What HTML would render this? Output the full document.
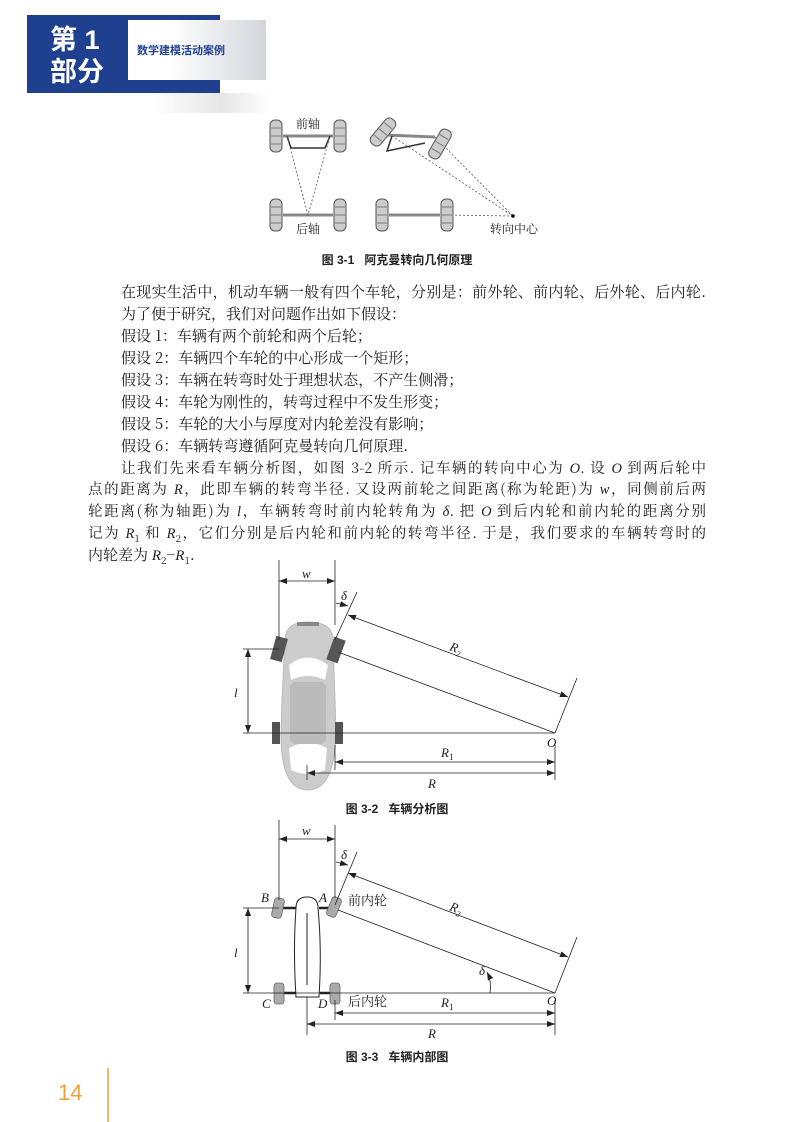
<!DOCTYPE html>
<html><head><meta charset="utf-8"><style>
body{margin:0;background:#fff;}
#p{position:relative;width:794px;height:1122px;overflow:hidden;background:#fff;font-family:"Noto Serif CJK SC","Liberation Serif",serif;color:#222;}
.l{position:absolute;font-size:15px;line-height:22px;white-space:nowrap;}
.j{text-align:justify;text-align-last:justify;white-space:nowrap;}
i{font-style:italic;font-family:"Liberation Serif",serif}
svg text{font-family:"Liberation Serif","Noto Serif CJK SC",serif;fill:#222}
.cap{position:absolute;font-family:"Liberation Sans","Noto Sans CJK SC",sans-serif;font-weight:bold;font-size:12px;width:794px;text-align:center;left:0;color:#222}
</style></head><body><div id="p">
<div style="position:absolute;left:27px;top:15px;width:193px;height:78px;background:#1f3f8f"></div>
<div style="position:absolute;left:128px;top:20px;width:138px;height:60px;background:linear-gradient(90deg,#fff 30%,#d4d6dc)"></div>
<div style="position:absolute;left:150px;top:93px;width:120px;height:20px;background:linear-gradient(90deg,#fff,#e6e6e6 60%,#fff)"></div>
<div style="position:absolute;left:50px;top:24px;color:#fff;font:bold 27px 'Liberation Sans','Noto Sans CJK SC',sans-serif;line-height:32px">第 1<br>部分</div>
<div style="position:absolute;left:137px;top:42px;color:#1f3f8f;font:bold 11px 'Liberation Sans','Noto Sans CJK SC',sans-serif">数学建模活动案例</div>

<svg style="position:absolute;left:0;top:0" width="794" height="1122">
<defs>
<marker id="a" markerWidth="8" markerHeight="6" refX="8" refY="3" orient="auto-start-reverse" markerUnits="userSpaceOnUse"><path d="M0,0L8,3L0,6" fill="#222"/></marker>
<g id="wh"><rect x="-6" y="-16" width="12" height="32" rx="5" fill="#ccc" stroke="#555" stroke-width="1"/><line x1="-5" y1="-8" x2="5" y2="-8" stroke="#777"/><line x1="-5" y1="0" x2="5" y2="0" stroke="#777"/><line x1="-5" y1="8" x2="5" y2="8" stroke="#777"/></g>
</defs>
<g stroke="#888" stroke-width="3"><line x1="283" y1="136" x2="333" y2="136"/><line x1="283" y1="215" x2="333" y2="215"/><line x1="389" y1="215" x2="440" y2="215"/><line x1="386" y1="135" x2="435" y2="137"/></g>
<path d="M287,136 L291,148 L325,148 L330,136" fill="none" stroke="#333" stroke-width="1.5"/>
<path d="M392,136 L387,151 L425,143" fill="none" stroke="#333" stroke-width="1.5"/>
<g stroke="#555" stroke-dasharray="2,2" fill="none" stroke-width="0.8"><path d="M287,136L308,215L330,136"/><path d="M392,136L513,216M435,137L513,216M447,215L513,216"/></g>
<circle cx="513" cy="216" r="1.8" fill="#000"/>
<use href="#wh" x="276" y="136"/><use href="#wh" x="340" y="136"/><use href="#wh" x="276" y="215"/><use href="#wh" x="340" y="215"/>
<use href="#wh" x="382" y="215"/><use href="#wh" x="447" y="215"/>
<use href="#wh" transform="translate(383,132) rotate(40)"/><use href="#wh" transform="translate(440,144) rotate(30)"/>
<text x="296" y="128" font-size="12">前轴</text><text x="296" y="233" font-size="12">后轴</text><text x="490" y="233" font-size="12">转向中心</text>

<path d="M285,640 Q285,622 308,622 Q333,622 333,640 L335,700 L336,735 Q334,790 308,790 Q281,790 281,735 L282,700 Z" fill="#ccc" stroke="#bbb"/>
<path d="M289,665 Q308,650 328,665 L325,680 Q308,672 291,680Z" fill="#fff"/>
<path d="M289,748 Q308,738 327,748 L325,770 Q308,778 291,770Z" fill="#fff"/>
<rect x="290" y="682" width="36" height="62" rx="6" fill="#bbb"/>
<rect x="297" y="622" width="22" height="4" fill="#888"/>
<rect x="-6" y="-12" width="12" height="24" fill="#555" transform="translate(279,649) rotate(15)"/>
<rect x="-6" y="-12" width="12" height="24" fill="#555" transform="translate(336,650) rotate(20)"/>
<rect x="272" y="722" width="8" height="22" fill="#555"/><rect x="335" y="722" width="8" height="22" fill="#555"/>
<g stroke="#222" stroke-width="0.8" fill="none">
<line x1="279" y1="560" x2="279" y2="640"/><line x1="335" y1="560" x2="335" y2="625"/>
<line x1="279" y1="581" x2="335" y2="581" marker-start="url(#a)" marker-end="url(#a)"/>
<line x1="336" y1="603" x2="348" y2="606" marker-end="url(#a)"/>
<line x1="335" y1="640" x2="357" y2="592"/>
<line x1="348" y1="615" x2="568" y2="697" marker-start="url(#a)" marker-end="url(#a)"/>
<line x1="338" y1="652" x2="555" y2="733"/>
<line x1="555" y1="733" x2="577" y2="678"/>
<line x1="243" y1="733" x2="555" y2="733"/><line x1="243" y1="649" x2="279" y2="649"/>
<line x1="248" y1="649" x2="248" y2="733" marker-start="url(#a)" marker-end="url(#a)"/>
<line x1="335" y1="745" x2="335" y2="770"/><line x1="555" y1="745" x2="555" y2="780"/><line x1="307" y1="765" x2="307" y2="780"/>
<line x1="335" y1="762" x2="555" y2="762" marker-start="url(#a)" marker-end="url(#a)"/>
<line x1="307" y1="773" x2="555" y2="773" marker-start="url(#a)" marker-end="url(#a)"/>
</g>
<g font-style="italic" font-size="13">
<text x="302" y="578">w</text><text x="341" y="600">δ</text><text x="450" y="652" transform="rotate(20 455 648)">R<tspan font-size="8" dy="3">2</tspan></text>
<text x="234" y="697">l</text><text x="547" y="747">O</text><text x="441" y="757">R<tspan font-size="9" dy="3" font-style="normal">1</tspan></text><text x="428" y="788">R</text>
</g>

<path d="M296,908 Q296,897 307,897 Q318,897 318,908 Q322,950 319,997 L296,997 Q293,950 296,908 Z" fill="#fff" stroke="#222" stroke-width="1"/>
<line x1="307" y1="913" x2="307" y2="985" stroke="#222"/>
<g stroke="#222" stroke-width="2.5"><line x1="279" y1="908" x2="296" y2="908"/><line x1="319" y1="908" x2="335" y2="908"/><line x1="279" y1="993" x2="296" y2="993"/><line x1="320" y1="993" x2="335" y2="993"/></g>
<g fill="#aaa" stroke="#666" stroke-width="0.8">
<rect x="-5" y="-10" width="10" height="20" rx="3" transform="translate(278,908) rotate(12)"/>
<rect x="-5" y="-10" width="10" height="20" rx="3" transform="translate(334,907) rotate(22)"/>
<rect x="274" y="983" width="10" height="21" rx="3"/><rect x="330" y="983" width="10" height="21" rx="3"/></g>
<g stroke="#222" stroke-width="0.8" fill="none">
<line x1="279" y1="820" x2="279" y2="900"/><line x1="335" y1="825" x2="335" y2="898"/>
<line x1="279" y1="839" x2="335" y2="839" marker-start="url(#a)" marker-end="url(#a)"/>
<line x1="336" y1="862" x2="348" y2="865" marker-end="url(#a)"/>
<line x1="335" y1="905" x2="357" y2="852"/>
<line x1="348" y1="873" x2="568" y2="957" marker-start="url(#a)" marker-end="url(#a)"/>
<line x1="338" y1="910" x2="555" y2="993"/>
<line x1="555" y1="993" x2="577" y2="937"/>
<line x1="243" y1="993" x2="555" y2="993"/><line x1="243" y1="908" x2="279" y2="908"/>
<line x1="248" y1="908" x2="248" y2="993" marker-start="url(#a)" marker-end="url(#a)"/>
<path d="M490,993 Q492,982 487,972" marker-end="url(#a)"/>
<line x1="335" y1="1000" x2="335" y2="1020"/><line x1="555" y1="1000" x2="555" y2="1035"/><line x1="307" y1="997" x2="307" y2="1035"/>
<line x1="335" y1="1013" x2="555" y2="1013" marker-start="url(#a)" marker-end="url(#a)"/>
<line x1="307" y1="1024" x2="555" y2="1024" marker-start="url(#a)" marker-end="url(#a)"/>
</g>
<g font-style="italic" font-size="13">
<text x="302" y="835">w</text><text x="341" y="859">δ</text><text x="450" y="912" transform="rotate(20 455 908)">R<tspan font-size="8" dy="3">2</tspan></text>
<text x="234" y="957">l</text><text x="547" y="1005">O</text><text x="441" y="1007">R<tspan font-size="9" dy="3" font-style="normal">1</tspan></text><text x="428" y="1038">R</text>
<text x="261" y="902">B</text><text x="319" y="902">A</text><text x="262" y="1008">C</text><text x="318" y="1008">D</text>
<text x="479" y="975">δ</text>
</g>
<text x="348" y="905" font-size="13">前内轮</text><text x="348" y="1006" font-size="13">后内轮</text>
<line x1="108" y1="1068" x2="108" y2="1122" stroke="#e8a23a" stroke-width="1.5"/>
<text x="58" y="1100" font-size="22" style="font-family:'Liberation Sans',sans-serif;fill:#e8a23a">14</text>
</svg>

<div class="cap" style="top:251px">图 3-1&nbsp;&nbsp;&nbsp;阿克曼转向几何原理</div>
<div class="cap" style="top:800px">图 3-2&nbsp;&nbsp;&nbsp;车辆分析图</div>
<div class="cap" style="top:1048px">图 3-3&nbsp;&nbsp;&nbsp;车辆内部图</div>

<div class="l j" style="left:121px;top:281px;width:585px">在现实生活中，机动车辆一般有四个车轮，分别是：前外轮、前内轮、后外轮、后内轮.</div>
<div class="l" style="left:121px;top:303px">为了便于研究，我们对问题作出如下假设：</div>
<div class="l" style="left:121px;top:325px">假设 1：车辆有两个前轮和两个后轮；</div>
<div class="l" style="left:121px;top:347px">假设 2：车辆四个车轮的中心形成一个矩形；</div>
<div class="l" style="left:121px;top:369px">假设 3：车辆在转弯时处于理想状态，不产生侧滑；</div>
<div class="l" style="left:121px;top:391px">假设 4：车轮为刚性的，转弯过程中不发生形变；</div>
<div class="l" style="left:121px;top:413px">假设 5：车轮的大小与厚度对内轮差没有影响；</div>
<div class="l" style="left:121px;top:435px">假设 6：车辆转弯遵循阿克曼转向几何原理.</div>
<div class="l j" style="left:121px;top:457px;width:585px;font-size:14.5px">让我们先来看车辆分析图，如图 3-2 所示. 记车辆的转向中心为 <i>O</i>. 设 <i>O</i> 到两后轮中</div>
<div class="l j" style="left:88px;top:478px;width:618px;font-size:14.5px">点的距离为 <i>R</i>，此即车辆的转弯半径. 又设两前轮之间距离(称为轮距)为 <i>w</i>，同侧前后两</div>
<div class="l j" style="left:88px;top:500px;width:618px;font-size:14.5px">轮距离(称为轴距)为 <i>l</i>，车辆转弯时前内轮转角为 <i>δ</i>. 把 <i>O</i> 到后内轮和前内轮的距离分别</div>
<div class="l j" style="left:88px;top:522px;width:618px;font-size:14.5px">记为 <i>R</i><sub style="font-size:10px">1</sub> 和 <i>R</i><sub style="font-size:10px">2</sub>，它们分别是后内轮和前内轮的转弯半径. 于是，我们要求的车辆转弯时的</div>
<div class="l" style="left:88px;top:544px">内轮差为 <i>R</i><sub style="font-size:10px">2</sub>−<i>R</i><sub style="font-size:10px">1</sub>.</div>
</div></body></html>
